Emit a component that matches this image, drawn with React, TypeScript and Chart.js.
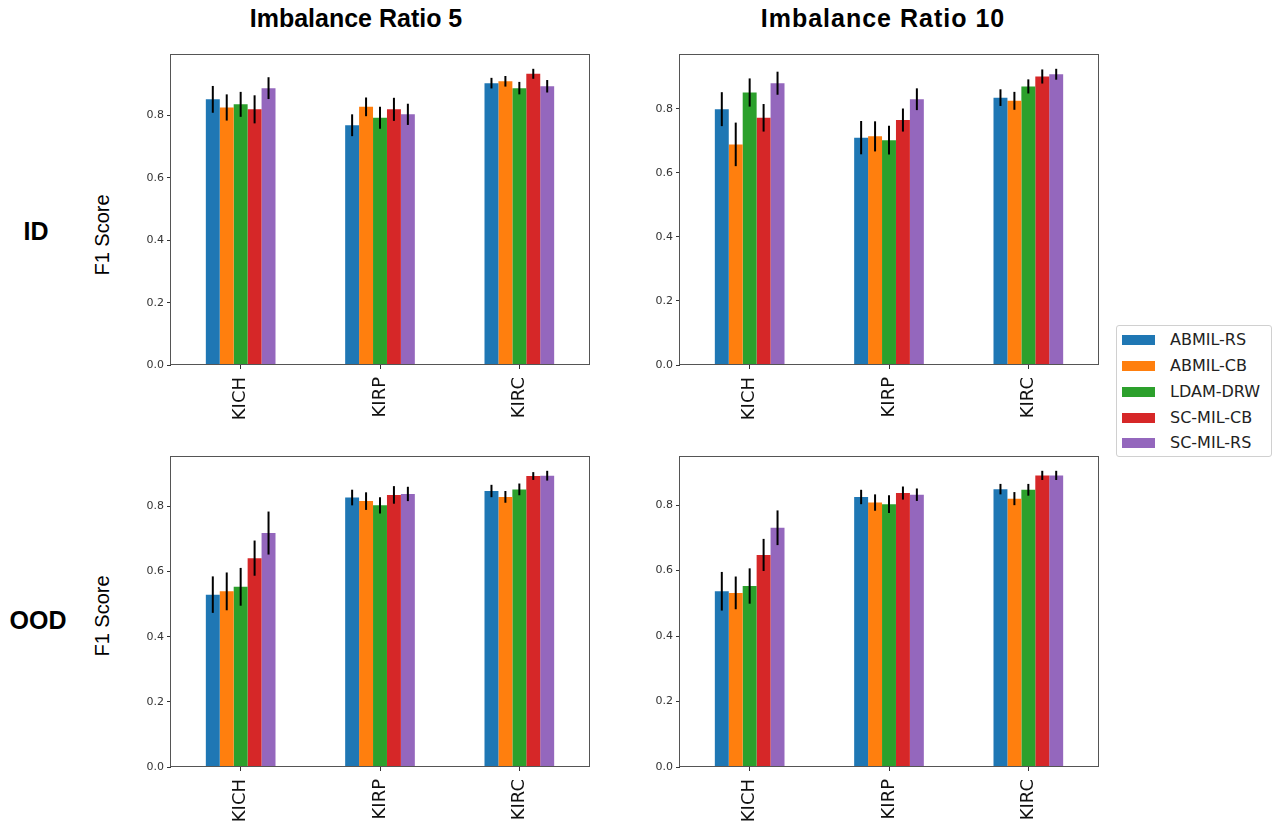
import React, { useEffect, useRef } from "react";
import { Chart, registerables } from "chart.js";

Chart.register(...registerables);

// ---------- data ----------
const categories = ["KICH", "KIRP", "KIRC"];
const methods = ["ABMIL-RS", "ABMIL-CB", "LDAM-DRW", "SC-MIL-CB", "SC-MIL-RS"];
const methodColors = ["#1f77b4", "#ff7f0e", "#2ca02c", "#d62728", "#9467bd"];
const yTickValues = [0, 0.2, 0.4, 0.6, 0.8];

// rows: methods, columns: categories
const id5Means = [
  [0.852, 0.769, 0.904],
  [0.826, 0.828, 0.91],
  [0.836, 0.793, 0.888],
  [0.82, 0.82, 0.934],
  [0.888, 0.804, 0.894],
];
const id5Errs = [
  [0.043, 0.035, 0.017],
  [0.042, 0.03, 0.017],
  [0.04, 0.035, 0.02],
  [0.045, 0.037, 0.016],
  [0.035, 0.034, 0.02],
];

const id10Means = [
  [0.799, 0.71, 0.835],
  [0.689, 0.714, 0.825],
  [0.851, 0.702, 0.87],
  [0.772, 0.765, 0.901],
  [0.88, 0.83, 0.908],
];
const id10Errs = [
  [0.053, 0.052, 0.026],
  [0.068, 0.047, 0.028],
  [0.044, 0.045, 0.022],
  [0.043, 0.036, 0.022],
  [0.036, 0.034, 0.017],
];

const ood5Means = [
  [0.529, 0.827, 0.847],
  [0.539, 0.816, 0.829],
  [0.553, 0.803, 0.852],
  [0.641, 0.835, 0.893],
  [0.718, 0.838, 0.894],
];
const ood5Errs = [
  [0.056, 0.024, 0.019],
  [0.058, 0.027, 0.018],
  [0.058, 0.025, 0.018],
  [0.054, 0.027, 0.012],
  [0.066, 0.022, 0.015],
];

const ood10Means = [
  [0.537, 0.825, 0.849],
  [0.532, 0.808, 0.82],
  [0.553, 0.803, 0.847],
  [0.648, 0.837, 0.891],
  [0.731, 0.832, 0.891],
];
const ood10Errs = [
  [0.059, 0.022, 0.016],
  [0.05, 0.025, 0.02],
  [0.054, 0.027, 0.018],
  [0.049, 0.02, 0.014],
  [0.053, 0.019, 0.014],
];

const colTitles = ["Imbalance Ratio 5", "Imbalance Ratio 10"];
const rowTitles = ["ID", "OOD"];
const yAxisTitle = "F1 Score";

// ---------- layout ----------
const PLOT_W = 418;
const PLOT_H = 311;
const Y_AXIS_W = 45;
const X_AXIS_H = 58;
const PAD_TOP = 10;
const PAD_RIGHT = 8;

const errorBarPlugin = {
  id: "errorBars",
  afterDatasetsDraw(chart: any, _args: any, opts: any) {
    const errs = opts.errors as number[][];
    if (!errs) return;
    const ctx = chart.ctx;
    const ys = chart.scales.y;
    chart.data.datasets.forEach((ds: any, i: number) => {
      const meta = chart.getDatasetMeta(i);
      meta.data.forEach((bar: any, j: number) => {
        const v = ds.data[j];
        const e = errs[i][j];
        ctx.save();
        ctx.strokeStyle = "#000";
        ctx.lineWidth = 2;
        ctx.beginPath();
        ctx.moveTo(bar.x, ys.getPixelForValue(v - e));
        ctx.lineTo(bar.x, ys.getPixelForValue(v + e));
        ctx.stroke();
        ctx.restore();
      });
    });
  },
};

const framePlugin = {
  id: "frame",
  afterDraw(chart: any) {
    const { left, top, right, bottom } = chart.chartArea;
    const ctx = chart.ctx;
    ctx.save();
    ctx.strokeStyle = "#555";
    ctx.lineWidth = 1;
    ctx.strokeRect(
      Math.round(left) - 0.5,
      Math.round(top) + 0.5,
      Math.round(right - left) + 1,
      Math.round(bottom - top) - 1
    );
    ctx.restore();
  },
};

function Panel({
  means,
  errs,
  left,
  top,
}: {
  means: number[][];
  errs: number[][];
  left: number;
  top: number;
}) {
  const ref = useRef<HTMLCanvasElement | null>(null);
  const width = Y_AXIS_W + PLOT_W + PAD_RIGHT;
  const height = PAD_TOP + PLOT_H + X_AXIS_H;

  useEffect(() => {
    if (!ref.current) return;
    let top = 0;
    means.forEach((row, i) =>
      row.forEach((v, j) => {
        top = Math.max(top, v + errs[i][j]);
      })
    );
    const yMax = top * 1.05;
    const chart = new Chart(ref.current, {
      type: "bar",
      data: {
        labels: categories,
        datasets: methods.map((m, i) => ({
          label: m,
          data: means[i],
          backgroundColor: methodColors[i],
          borderWidth: 0,
          categoryPercentage: 0.5,
          barPercentage: 1.0,
        })),
      },
      options: {
        responsive: false,
        animation: false,
        layout: { padding: { top: PAD_TOP, right: PAD_RIGHT, left: 0, bottom: 0 } },
        plugins: {
          legend: { display: false },
          tooltip: { enabled: false },
          title: { display: false },
          errorBars: { errors: errs },
        } as any,
        scales: {
          x: {
            type: "category",
            offset: true,
            grid: {
              display: true,
              offset: false,
              drawOnChartArea: false,
              drawTicks: true,
              tickLength: 4,
              color: "#333",
            },
            border: { display: false },
            ticks: {
              minRotation: 90,
              maxRotation: 90,
              padding: 8,
              color: "#111",
              font: { family: "'DejaVu Sans', sans-serif", size: 18 },
            },
            afterFit(scale: any) {
              scale.height = X_AXIS_H;
            },
          },
          y: {
            type: "linear",
            min: 0,
            max: yMax,
            afterBuildTicks(scale: any) {
              scale.ticks = yTickValues.map((v) => ({ value: v }));
            },
            grid: {
              display: true,
              drawOnChartArea: false,
              drawTicks: true,
              tickLength: 4,
              color: "#333",
            },
            border: { display: false },
            ticks: {
              padding: 3,
              color: "#333",
              font: { family: "'DejaVu Sans', sans-serif", size: 11 },
              callback: (v: any) => Number(v).toFixed(1),
            },
            afterFit(scale: any) {
              scale.width = Y_AXIS_W;
            },
          },
        },
      },
      plugins: [errorBarPlugin, framePlugin],
    } as any);
    return () => chart.destroy();
  }, [means, errs]);

  return (
    <canvas
      ref={ref}
      width={width}
      height={height}
      style={{ position: "absolute", left, top, width, height }}
    />
  );
}

const boldText: React.CSSProperties = {
  position: "absolute",
  fontFamily: "'Liberation Sans', Arial, sans-serif",
  fontWeight: "bold",
  fontSize: 25,
  lineHeight: "30px",
  textAlign: "center",
  color: "#000",
  whiteSpace: "nowrap",
};

export default function App() {
  const plotLefts = [171, 680];
  const plotTops = [54, 456];
  const panels = [
    [id5Means, id5Errs, id10Means, id10Errs],
    [ood5Means, ood5Errs, ood10Means, ood10Errs],
  ];
  return (
    <div
      style={{
        position: "absolute",
        left: 0,
        top: 0,
        width: 1276,
        height: 825,
        background: "#fff",
        overflow: "hidden",
      }}
    >
      {panels.map((row, r) =>
        [0, 1].map((c) => (
          <Panel
            key={`${r}-${c}`}
            means={row[c * 2] as number[][]}
            errs={row[c * 2 + 1] as number[][]}
            left={plotLefts[c] - Y_AXIS_W}
            top={plotTops[r] - PAD_TOP}
          />
        ))
      )}

      {/* column titles */}
      <div style={{ ...boldText, left: 356 - 200, top: 3, width: 400 }}>{colTitles[0]}</div>
      <div style={{ ...boldText, left: 883 - 200, top: 3, width: 400, letterSpacing: 1 }}>
        {colTitles[1]}
      </div>

      {/* row titles */}
      <div style={{ ...boldText, left: 36 - 50, top: 216, width: 100 }}>{rowTitles[0]}</div>
      <div style={{ ...boldText, left: 38 - 50, top: 605, width: 100 }}>{rowTitles[1]}</div>

      {/* y axis titles */}
      {[235, 616].map((cy, i) => (
        <div
          key={i}
          style={{
            position: "absolute",
            left: 102 - 70,
            top: cy - 10,
            width: 140,
            height: 20,
            lineHeight: "20px",
            fontSize: 20,
            fontFamily: "'Liberation Sans', Arial, sans-serif",
            textAlign: "center",
            color: "#000",
            transform: "rotate(-90deg)",
            transformOrigin: "50% 50%",
            whiteSpace: "nowrap",
          }}
        >
          {yAxisTitle}
        </div>
      ))}

      {/* legend */}
      <div
        style={{
          position: "absolute",
          left: 1116,
          top: 325,
          width: 156,
          height: 132,
          border: "1px solid #d0d0d0",
          borderRadius: 3,
          boxSizing: "border-box",
          background: "#fff",
        }}
      >
        {methods.map((m, i) => {
          const cy = [14, 40, 66, 92, 117][i];
          return (
            <React.Fragment key={m}>
              <div
                style={{
                  position: "absolute",
                  left: 5,
                  top: cy - 5,
                  width: 33,
                  height: 10,
                  background: methodColors[i],
                }}
              />
              <div
                style={{
                  position: "absolute",
                  left: 53,
                  top: cy - 10,
                  height: 20,
                  lineHeight: "20px",
                  fontSize: 16,
                  fontFamily: "'DejaVu Sans', sans-serif",
                  color: "#222",
                  whiteSpace: "nowrap",
                }}
              >
                {m}
              </div>
            </React.Fragment>
          );
        })}
      </div>
    </div>
  );
}
